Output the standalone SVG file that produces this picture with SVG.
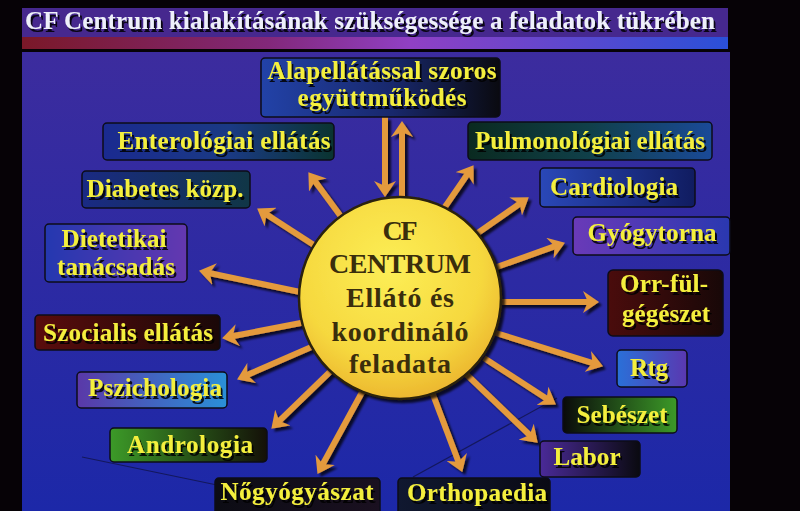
<svg xmlns="http://www.w3.org/2000/svg" width="800" height="511" viewBox="0 0 800 511">
<defs>
<style>
.box{stroke:#0c0c18;stroke-width:1.5}
.nt{font-family:"Liberation Serif","Times New Roman",serif;font-weight:bold;font-size:25px;fill:#f4ef3e;text-anchor:middle;filter:url(#tsh)}
.ct{font-family:"Liberation Serif","Times New Roman",serif;font-weight:bold;font-size:28px;fill:#3a2e0c;text-anchor:middle}
.title{font-family:"Liberation Serif","Times New Roman",serif;font-weight:bold;font-size:25px;fill:#eef0fa;filter:url(#tsh)}
.arr{stroke:#e49a3c;stroke-width:6;fill:none;marker-end:url(#ah)}
.stray{stroke:#0a0a20;stroke-width:1.2;opacity:0.55}
</style>
<filter id="tsh" x="-10%" y="-20%" width="130%" height="160%">
<feDropShadow dx="2" dy="3" stdDeviation="0.7" flood-color="#000" flood-opacity="0.85"/>
</filter>
<filter id="ash" x="-20%" y="-20%" width="140%" height="140%">
<feDropShadow dx="3" dy="3" stdDeviation="1" flood-color="#000" flood-opacity="0.75"/>
</filter>
<marker id="ah" markerUnits="userSpaceOnUse" markerWidth="16" markerHeight="22" viewBox="0 0 16 22" refX="7" refY="11" orient="auto">
<path d="M0,0 L16,11 L0,22 L5,11 z" fill="#e49a3c"/>
</marker>
<linearGradient id="panel" x1="0" y1="0" x2="0" y2="1">
<stop offset="0" stop-color="#3c2c9e"/><stop offset="1" stop-color="#1c28a8"/>
</linearGradient>
<linearGradient id="stripe" x1="0" y1="0" x2="1" y2="0">
<stop offset="0" stop-color="#7a1828"/><stop offset="0.35" stop-color="#82287a"/><stop offset="0.55" stop-color="#9040c4"/><stop offset="1" stop-color="#2a50d8"/>
</linearGradient>
<radialGradient id="sun" cx="0.45" cy="0.35" r="0.7">
<stop offset="0" stop-color="#fcee56"/><stop offset="0.65" stop-color="#f6d83e"/><stop offset="1" stop-color="#eab02c"/>
</radialGradient>
<linearGradient id="g-alap"><stop offset="0" stop-color="#2242a8"/><stop offset="0.55" stop-color="#18286c"/><stop offset="1" stop-color="#0a0a10"/></linearGradient>
<linearGradient id="g-entero"><stop offset="0" stop-color="#1a2a90"/><stop offset="0.55" stop-color="#1a3a84"/><stop offset="1" stop-color="#0a3430"/></linearGradient>
<linearGradient id="g-diab"><stop offset="0" stop-color="#1a2a84"/><stop offset="1" stop-color="#103646"/></linearGradient>
<linearGradient id="g-diet"><stop offset="0" stop-color="#2438b0"/><stop offset="1" stop-color="#6438b0"/></linearGradient>
<linearGradient id="g-szoc"><stop offset="0" stop-color="#5a0c0c"/><stop offset="1" stop-color="#1a0808"/></linearGradient>
<linearGradient id="g-pszi"><stop offset="0" stop-color="#5a38a8"/><stop offset="1" stop-color="#2a90d8"/></linearGradient>
<linearGradient id="g-andro"><stop offset="0" stop-color="#3c9a28"/><stop offset="1" stop-color="#141008"/></linearGradient>
<linearGradient id="g-nogy"><stop offset="0" stop-color="#0c0c14"/><stop offset="1" stop-color="#1a1020"/></linearGradient>
<linearGradient id="g-ortho"><stop offset="0" stop-color="#101830"/><stop offset="1" stop-color="#0a0a14"/></linearGradient>
<linearGradient id="g-labor"><stop offset="0" stop-color="#4a2a98"/><stop offset="1" stop-color="#0a0a10"/></linearGradient>
<linearGradient id="g-sebe"><stop offset="0" stop-color="#0a0a0a"/><stop offset="1" stop-color="#3c9a28"/></linearGradient>
<linearGradient id="g-rtg"><stop offset="0" stop-color="#2a70d8"/><stop offset="1" stop-color="#5a38b0"/></linearGradient>
<linearGradient id="g-orr"><stop offset="0" stop-color="#4a0c0c"/><stop offset="1" stop-color="#180808"/></linearGradient>
<linearGradient id="g-gyogy"><stop offset="0" stop-color="#6a3ab8"/><stop offset="1" stop-color="#2a38b0"/></linearGradient>
<linearGradient id="g-cardio"><stop offset="0" stop-color="#2a48b8"/><stop offset="1" stop-color="#101c60"/></linearGradient>
<linearGradient id="g-pulmo"><stop offset="0" stop-color="#0a2a20"/><stop offset="0.5" stop-color="#10404a"/><stop offset="1" stop-color="#1a4a98"/></linearGradient>
</defs>

<rect x="0" y="0" width="800" height="511" fill="#060206"/>
<rect x="22" y="8" width="706" height="29" fill="#46288e"/>
<rect x="22" y="37" width="706" height="12" fill="url(#stripe)"/>
<rect x="22" y="52" width="708" height="459" fill="url(#panel)"/>
<text class="title" x="25" y="29" textLength="690">CF Centrum kialakításának szükségessége a feladatok tükrében</text>

<line class="stray" x1="82" y1="457" x2="217" y2="485"/>
<line class="stray" x1="413" y1="477" x2="557" y2="398"/>

<g id="connectors" filter="url(#ash)">
<line class="arr" x1="385" y1="117" x2="385" y2="188"/>
<line class="arr" x1="402" y1="205" x2="402" y2="130"/>
<line class="arr" x1="345" y1="222" x2="313.7" y2="179.5"/>
<line class="arr" x1="320" y1="249" x2="264.7" y2="213.3"/>
<line class="arr" x1="305" y1="293" x2="207.8" y2="272.7"/>
<line class="arr" x1="306" y1="322" x2="230.9" y2="336.5"/>
<line class="arr" x1="316" y1="345" x2="245.3" y2="375.8"/>
<line class="arr" x1="336" y1="366" x2="277.8" y2="422.4"/>
<line class="arr" x1="366" y1="385" x2="321.8" y2="466"/>
<line class="arr" x1="432" y1="392" x2="459.1" y2="463.5"/>
<line class="arr" x1="466" y1="374" x2="531.2" y2="436.5"/>
<line class="arr" x1="484" y1="358" x2="548.3" y2="399.7"/>
<line class="arr" x1="496" y1="333" x2="594.4" y2="363.6"/>
<line class="arr" x1="500" y1="302" x2="590" y2="302"/>
<line class="arr" x1="494" y1="268" x2="556.5" y2="245.7"/>
<line class="arr" x1="472" y1="237" x2="521.4" y2="202.5"/>
<line class="arr" x1="438" y1="217" x2="468.5" y2="172.6"/>
</g>

<g id="center">
<circle cx="400" cy="298" r="101" fill="url(#sun)" stroke="#2a200a" stroke-width="2.5" filter="url(#ash)"/>
<text class="ct" x="400" y="240" textLength="35">CF</text>
<text class="ct" x="400" y="273" textLength="142">CENTRUM</text>
<text class="ct" x="400" y="307" textLength="108">Ellátó és</text>
<text class="ct" x="400" y="341" textLength="137">koordináló</text>
<text class="ct" x="400" y="373" textLength="102">feladata</text>
</g>

<g id="alapellatas">
<rect class="box" x="261" y="58" width="239" height="59" rx="4" fill="url(#g-alap)"/>
<text class="nt" x="382" y="79" textLength="229">Alapellátással szoros</text>
<text class="nt" x="382" y="106" textLength="169">együttműködés</text>
</g>
<g id="enterologia">
<rect class="box" x="103" y="123" width="231" height="37" rx="4" fill="url(#g-entero)"/>
<text class="nt" x="224" y="149" textLength="213">Enterológiai ellátás</text>
</g>
<g id="diabetes">
<rect class="box" x="82" y="171" width="168" height="37" rx="4" fill="url(#g-diab)"/>
<text class="nt" x="165" y="197" textLength="157">Diabetes közp.</text>
</g>
<g id="dietetika">
<rect class="box" x="45" y="224" width="142" height="58" rx="4" fill="url(#g-diet)"/>
<text class="nt" x="114" y="247" textLength="105">Dietetikai</text>
<text class="nt" x="116" y="275" textLength="118">tanácsadás</text>
</g>
<g id="szocialis">
<rect class="box" x="35" y="315" width="185" height="35" rx="4" fill="url(#g-szoc)"/>
<text class="nt" x="128" y="341" textLength="170">Szocialis ellátás</text>
</g>
<g id="pszichologia">
<rect class="box" x="77" y="372" width="150" height="36" rx="4" fill="url(#g-pszi)"/>
<text class="nt" x="155" y="396" textLength="134">Pszichologia</text>
</g>
<g id="andrologia">
<rect class="box" x="110" y="428" width="157" height="34" rx="4" fill="url(#g-andro)"/>
<text class="nt" x="190" y="453" textLength="126">Andrologia</text>
</g>
<g id="nogyogyaszat">
<rect class="box" x="215" y="478" width="165" height="40" rx="4" fill="url(#g-nogy)"/>
<text class="nt" x="297" y="500" textLength="153">Nőgyógyászat</text>
</g>
<g id="orthopaedia">
<rect class="box" x="398" y="478" width="152" height="40" rx="4" fill="url(#g-ortho)"/>
<text class="nt" x="477" y="501" textLength="140">Orthopaedia</text>
</g>
<g id="labor">
<rect class="box" x="540" y="441" width="100" height="36" rx="4" fill="url(#g-labor)"/>
<text class="nt" x="587" y="465" textLength="67">Labor</text>
</g>
<g id="sebeszet">
<rect class="box" x="563" y="397" width="114" height="36" rx="4" fill="url(#g-sebe)"/>
<text class="nt" x="622" y="423" textLength="91">Sebészet</text>
</g>
<g id="rtg">
<rect class="box" x="617" y="350" width="70" height="37" rx="4" fill="url(#g-rtg)"/>
<text class="nt" x="649" y="376" textLength="38">Rtg</text>
</g>
<g id="orrfulgegeszet">
<rect class="box" x="608" y="270" width="115" height="66" rx="5" fill="url(#g-orr)"/>
<text class="nt" x="664" y="292" textLength="88">Orr-fül-</text>
<text class="nt" x="666" y="322" textLength="88">gégészet</text>
</g>
<g id="gyogytorna">
<rect class="box" x="573" y="217" width="157" height="38" rx="4" fill="url(#g-gyogy)"/>
<text class="nt" x="652" y="241" textLength="129">Gyógytorna</text>
</g>
<g id="cardiologia">
<rect class="box" x="540" y="168" width="155" height="39" rx="4" fill="url(#g-cardio)"/>
<text class="nt" x="614" y="195" textLength="128">Cardiologia</text>
</g>
<g id="pulmonologia">
<rect class="box" x="468" y="122" width="244" height="38" rx="4" fill="url(#g-pulmo)"/>
<text class="nt" x="590" y="149" textLength="230">Pulmonológiai ellátás</text>
</g>
</svg>
